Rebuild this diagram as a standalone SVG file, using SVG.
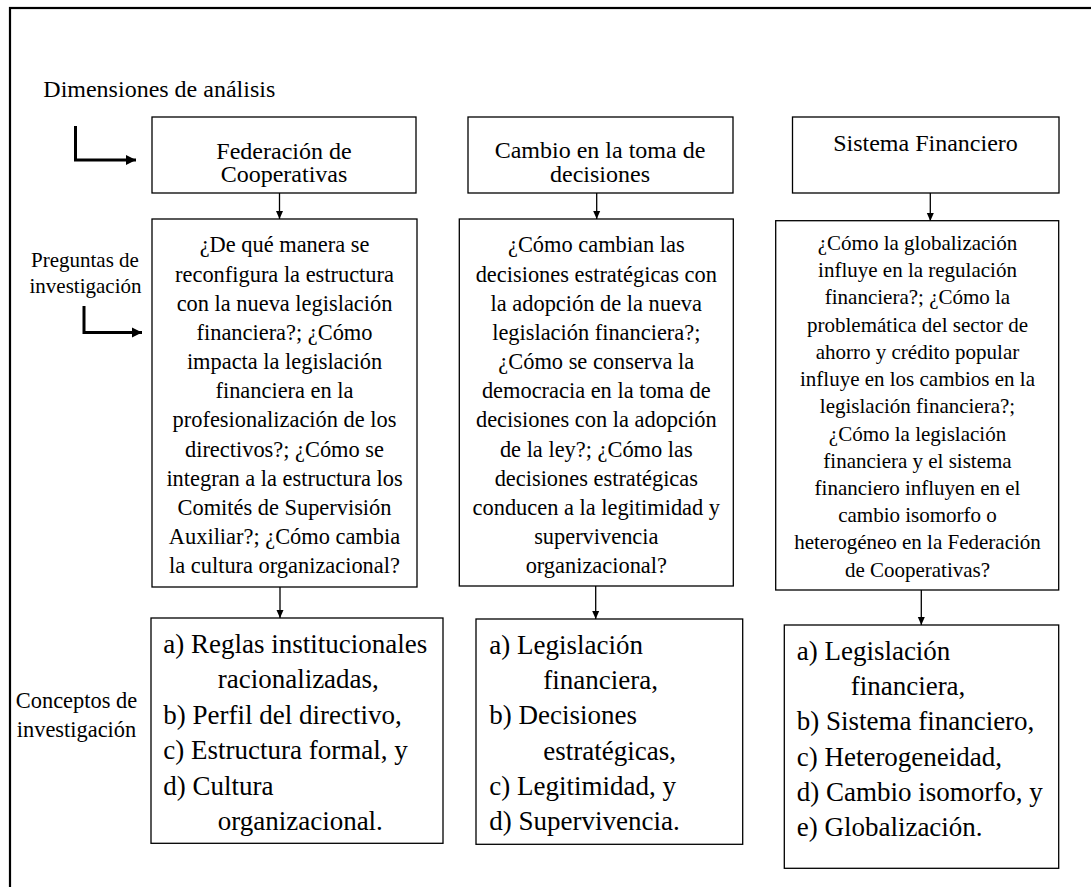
<svg xmlns="http://www.w3.org/2000/svg" width="1091" height="887" viewBox="0 0 1091 887">
<style>
text{font-family:"Liberation Serif","Times New Roman",serif;fill:#000}
.box{fill:#fff;stroke:#000;stroke-width:1.3}
.hd{font-size:24px;text-anchor:middle}
.q1{font-size:22.4px;text-anchor:middle}
.q3{font-size:21px;text-anchor:middle}
.c{font-size:27px}
.side{font-size:21px;text-anchor:middle}
.side2{font-size:22.4px;text-anchor:middle}
.thin{fill:none;stroke:#000;stroke-width:1.3}
.thick{fill:none;stroke:#000;stroke-width:3}
</style>
<defs>
<marker id="ah" markerWidth="8" markerHeight="8" refX="8" refY="4" orient="auto" markerUnits="userSpaceOnUse">
<path d="M0,0.5 L8,4 L0,7.5 Z" fill="#000"/>
</marker>
<marker id="ahb" markerWidth="11" markerHeight="11" refX="10" refY="5.5" orient="auto" markerUnits="userSpaceOnUse">
<path d="M0,0.5 L10,5.5 L0,10.5 Z" fill="#000"/>
</marker>
</defs>
<rect x="10" y="8" width="1100" height="900" fill="#fff" stroke="#000" stroke-width="2.2"/>

<g id="labels">
<text x="43.3" y="96.7" style="font-size:24px">Dimensiones de análisis</text>
<text class="side" x="85" y="266.7">Preguntas de</text>
<text class="side" x="85.5" y="293.3">investigación</text>
<text class="side2" x="76.5" y="708.3">Conceptos de</text>
<text class="side2" x="76.5" y="736.7">investigación</text>
</g>

<g id="connectors">
<path class="thick" d="M75.5,126 V160 H136" marker-end="url(#ahb)"/>
<path class="thick" d="M84,306 V332.5 H142" marker-end="url(#ahb)"/>
<line class="thin" x1="279.5" y1="193" x2="279.5" y2="219" marker-end="url(#ah)"/>
<line class="thin" x1="596.7" y1="193" x2="596.7" y2="219" marker-end="url(#ah)"/>
<line class="thin" x1="930.3" y1="193" x2="930.3" y2="221" marker-end="url(#ah)"/>
<line class="thin" x1="280" y1="587" x2="280" y2="618" marker-end="url(#ah)"/>
<line class="thin" x1="595.7" y1="586" x2="595.7" y2="619" marker-end="url(#ah)"/>
<line class="thin" x1="921.3" y1="590" x2="921.3" y2="625" marker-end="url(#ah)"/>
</g>

<g id="dim1">
<rect class="box" x="152" y="117" width="264" height="76"/>
<text class="hd" x="284" y="158.5">Federación de</text>
<text class="hd" x="284" y="182">Cooperativas</text>
</g>
<g id="dim2">
<rect class="box" x="468" y="117" width="265" height="76"/>
<text class="hd" x="600" y="158.3">Cambio en la toma de</text>
<text class="hd" x="600" y="182">decisiones</text>
</g>
<g id="dim3">
<rect class="box" x="792.5" y="117" width="266.5" height="76"/>
<text class="hd" x="925.5" y="150.7">Sistema Financiero</text>
</g>

<g id="preg1">
<rect class="box" x="152" y="219" width="265" height="368"/>
<text class="q1" x="284.5" y="252.3">¿De qué manera se</text>
<text class="q1" x="284.5" y="281.5">reconfigura la estructura</text>
<text class="q1" x="284.5" y="310.7">con la nueva legislación</text>
<text class="q1" x="284.5" y="339.8">financiera?; ¿Cómo</text>
<text class="q1" x="284.5" y="369">impacta la legislación</text>
<text class="q1" x="284.5" y="398.2">financiera en la</text>
<text class="q1" x="284.5" y="427.4">profesionalización de los</text>
<text class="q1" x="284.5" y="456.6">directivos?; ¿Cómo se</text>
<text class="q1" x="284.5" y="485.7">integran a la estructura los</text>
<text class="q1" x="284.5" y="514.9">Comités de Supervisión</text>
<text class="q1" x="284.5" y="544.1">Auxiliar?; ¿Cómo cambia</text>
<text class="q1" x="284.5" y="573.3">la cultura organizacional?</text>
</g>
<g id="preg2">
<rect class="box" x="459.3" y="219" width="274" height="367"/>
<text class="q1" x="596.3" y="252.3">¿Cómo cambian las</text>
<text class="q1" x="596.3" y="281.5">decisiones estratégicas con</text>
<text class="q1" x="596.3" y="310.7">la adopción de la nueva</text>
<text class="q1" x="596.3" y="339.8">legislación financiera?;</text>
<text class="q1" x="596.3" y="369">¿Cómo se conserva la</text>
<text class="q1" x="596.3" y="398.2">democracia en la toma de</text>
<text class="q1" x="596.3" y="427.4">decisiones con la adopción</text>
<text class="q1" x="596.3" y="456.6">de la ley?; ¿Cómo las</text>
<text class="q1" x="596.3" y="485.7">decisiones estratégicas</text>
<text class="q1" x="596.3" y="514.9">conducen a la legitimidad y</text>
<text class="q1" x="596.3" y="544.1">supervivencia</text>
<text class="q1" x="596.3" y="573.3">organizacional?</text>
</g>
<g id="preg3">
<rect class="box" x="775.7" y="220.7" width="283" height="369.3"/>
<text class="q3" x="917.5" y="250">¿Cómo la globalización</text>
<text class="q3" x="917.5" y="277.2">influye en la regulación</text>
<text class="q3" x="917.5" y="304.4">financiera?; ¿Cómo la</text>
<text class="q3" x="917.5" y="331.7">problemática del sector de</text>
<text class="q3" x="917.5" y="358.9">ahorro y crédito popular</text>
<text class="q3" x="917.5" y="386.1">influye en los cambios en la</text>
<text class="q3" x="917.5" y="413.3">legislación financiera?;</text>
<text class="q3" x="917.5" y="440.5">¿Cómo la legislación</text>
<text class="q3" x="917.5" y="467.8">financiera y el sistema</text>
<text class="q3" x="917.5" y="495">financiero influyen en el</text>
<text class="q3" x="917.5" y="522.2">cambio isomorfo o</text>
<text class="q3" x="917.5" y="549.4">heterogéneo en la Federación</text>
<text class="q3" x="917.5" y="576.6">de Cooperativas?</text>
</g>

<g id="conc1">
<rect class="box" x="151" y="618" width="292" height="225.3"/>
<text class="c" x="163.3" y="653">a) Reglas institucionales</text>
<text class="c" x="217.7" y="688.4">racionalizadas,</text>
<text class="c" x="163.3" y="723.8">b) Perfil del directivo,</text>
<text class="c" x="163.3" y="759.2">c) Estructura formal, y</text>
<text class="c" x="163.3" y="794.6">d) Cultura</text>
<text class="c" x="217.7" y="830">organizacional.</text>
</g>
<g id="conc2">
<rect class="box" x="476" y="619" width="266.7" height="225.3"/>
<text class="c" x="489.3" y="654">a) Legislación</text>
<text class="c" x="543.3" y="689.2">financiera,</text>
<text class="c" x="489.3" y="724.4">b) Decisiones</text>
<text class="c" x="543.3" y="759.6">estratégicas,</text>
<text class="c" x="489.3" y="794.8">c) Legitimidad, y</text>
<text class="c" x="489.3" y="830">d) Supervivencia.</text>
</g>
<g id="conc3">
<rect class="box" x="784.3" y="625" width="274.4" height="243.3"/>
<text class="c" x="796.7" y="660">a) Legislación</text>
<text class="c" x="850.7" y="695.2">financiera,</text>
<text class="c" x="796.7" y="730.4">b) Sistema financiero,</text>
<text class="c" x="796.7" y="765.6">c) Heterogeneidad,</text>
<text class="c" x="796.7" y="800.8">d) Cambio isomorfo, y</text>
<text class="c" x="796.7" y="836">e) Globalización.</text>
</g>
</svg>
